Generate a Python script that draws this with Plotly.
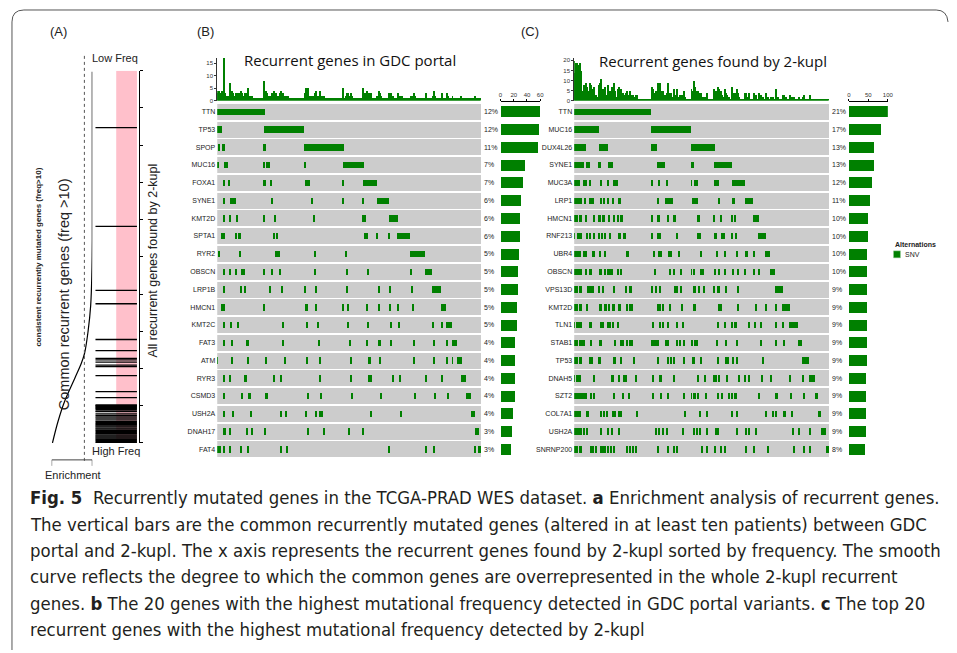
import plotly.graph_objects as go

# The page body adds an 8px margin, so the figure is drawn 8px smaller and
# reference pixel coordinates are shifted by that offset.
OFF = 8
W, H = 957 - OFF, 653 - OFF
def px(x): return (x - OFF) / W
def py(y): return 1 - (y - OFF) / H

GREEN = "#008000"
GRAY = "#CCCCCC"
TXT = "#222222"

# ---------------- Panel A data ----------------
n_ranks = 1000
enrich_rank = [0, 59, 112, 174, 214, 241, 299, 369, 460, 548, 997]
enrich_score = [0.02, 0.16, 0.32, 0.57, 0.73, 0.81, 0.895, 0.96, 0.99, 1.0, 1.0]
common_gene_ranks = [847, 582, 410, 374, 278, 248, 227, 223, 217, 209, 205, 181, 138, 122,
                     102, 100, 98, 95, 93, 90, 86, 84, 78, 74, 70, 67, 62, 58, 55, 52, 49,
                     46, 43, 40, 37, 34, 31, 28, 25, 22, 19, 16, 13, 10, 7, 4, 1]
enrich_threshold = 0.805

# ---------------- Panel B data ----------------
n_samples_b = 266
genes_b = ["TTN", "TP53", "SPOP", "MUC16", "FOXA1", "SYNE1", "KMT2D", "SPTA1", "RYR2", "OBSCN",
           "LRP1B", "HMCN1", "KMT2C", "FAT3", "ATM", "RYR3", "CSMD3", "USH2A", "DNAH17", "FAT4"]
pct_b = ["12%", "12%", "11%", "7%", "7%", "6%", "6%", "6%", "5%", "5%",
         "5%", "5%", "5%", "4%", "4%", "4%", "4%", "4%", "3%", "3%"]
count_b = [59, 58, 56, 37, 34, 31, 28, 28, 27, 25, 25, 24, 24, 21, 21, 21, 21, 18, 16, 15]
mut_b = [
    [(0, 48)],
    [(0, 5), (47, 88)],
    [(2, 3), (5, 8), (47, 49), (88, 128)],
    [(1, 2), (7, 11), (47, 48), (49, 53), (88, 89), (127, 148)],
    [(7, 8), (12, 13), (47, 49), (54, 55), (89, 94), (127, 128), (147, 161)],
    [(7, 8), (13, 19), (55, 56), (95, 96), (127, 128), (147, 148), (161, 173)],
    [(7, 8), (13, 14), (20, 21), (47, 48), (57, 60), (97, 98), (147, 148), (149, 150), (173, 183)],
    [(5, 6), (7, 8), (19, 20), (21, 24), (57, 58), (60, 61), (149, 150), (151, 152), (161, 162), (173, 174), (182, 195)],
    [(2, 3), (23, 24), (59, 60), (61, 64), (98, 99), (130, 131), (195, 210)],
    [(7, 8), (13, 14), (19, 20), (24, 28), (47, 48), (55, 56), (63, 64), (98, 99), (131, 132), (152, 153), (195, 196), (210, 217)],
    [(7, 8), (24, 25), (28, 29), (53, 54), (65, 66), (88, 90), (99, 100), (131, 132), (163, 164), (174, 175), (196, 197), (217, 226)],
    [(5, 6), (7, 8), (47, 48), (89, 92), (99, 100), (127, 128), (132, 133), (151, 152), (163, 164), (174, 175), (182, 183), (197, 198), (226, 231)],
    [(7, 8), (14, 15), (21, 22), (66, 68), (90, 91), (101, 102), (132, 133), (152, 153), (175, 176), (183, 184), (217, 218), (226, 227), (231, 237)],
    [(7, 8), (15, 16), (29, 32), (66, 67), (102, 103), (134, 135), (151, 152), (163, 165), (175, 176), (198, 199), (218, 219), (231, 232), (237, 242)],
    [(0, 1), (15, 16), (31, 32), (49, 50), (68, 69), (90, 91), (103, 104), (135, 136), (153, 155), (164, 165), (198, 199), (218, 219), (231, 232), (237, 238), (242, 247)],
    [(7, 8), (13, 14), (28, 30), (57, 58), (64, 65), (103, 104), (135, 136), (153, 154), (155, 156), (177, 178), (184, 185), (210, 211), (226, 227), (246, 251)],
    [(7, 8), (25, 26), (31, 34), (49, 51), (91, 92), (104, 105), (136, 137), (165, 166), (199, 200), (219, 220), (232, 233), (251, 256)],
    [(7, 8), (16, 17), (34, 35), (64, 65), (69, 70), (89, 90), (99, 100), (103, 104), (105, 107), (155, 156), (185, 187), (256, 260)],
    [(7, 9), (13, 14), (30, 31), (35, 36), (48, 49), (91, 92), (107, 108), (133, 134), (147, 148), (260, 264)],
    [(1, 2), (3, 4), (7, 8), (13, 14), (24, 25), (31, 32), (64, 65), (70, 72), (173, 174), (210, 211), (218, 219), (260, 261), (264, 266)],
]

# ---------------- Panel C data ----------------
n_samples_c = 257
genes_c = ["TTN", "MUC16", "DUX4L26", "SYNE1", "MUC3A", "LRP1", "HMCN1", "RNF213", "UBR4", "OBSCN",
           "VPS13D", "KMT2D", "TLN1", "STAB1", "TP53", "DNAH5", "SZT2", "COL7A1", "USH2A", "SNRNP200"]
pct_c = ["21%", "17%", "13%", "13%", "12%", "11%", "10%", "10%", "10%", "10%",
         "9%", "9%", "9%", "9%", "9%", "9%", "9%", "9%", "9%", "8%"]
count_c = [99, 83, 64, 64, 58, 53, 48, 48, 46, 46, 46, 46, 46, 46, 46, 43, 43, 43, 43, 41]
mut_c = [
    [(0, 78)],
    [(0, 25), (78, 118)],
    [(0, 12), (25, 34), (78, 84), (118, 142)],
    [(0, 10), (12, 16), (25, 27), (34, 39), (84, 92), (118, 121), (141, 159)],
    [(0, 6), (10, 11), (12, 13), (16, 17), (27, 28), (34, 35), (39, 44), (78, 79), (85, 86), (93, 94), (118, 119), (121, 125), (141, 146), (159, 172)],
    [(0, 5), (6, 8), (11, 12), (16, 17), (18, 20), (27, 28), (30, 31), (34, 35), (39, 40), (44, 47), (84, 85), (92, 100), (119, 125), (146, 147), (159, 162), (172, 181)],
    [(0, 4), (5, 8), (12, 13), (20, 21), (25, 27), (29, 31), (35, 36), (40, 41), (44, 45), (47, 49), (78, 80), (84, 87), (94, 96), (100, 103), (125, 127), (141, 142), (148, 149), (159, 160), (162, 163), (181, 187)],
    [(0, 1), (3, 8), (13, 14), (16, 17), (20, 21), (25, 26), (28, 29), (31, 32), (36, 37), (44, 47), (49, 52), (78, 79), (84, 85), (86, 87), (103, 105), (125, 126), (127, 128), (142, 144), (148, 152), (159, 160), (163, 164), (186, 194)],
    [(0, 7), (10, 11), (12, 13), (18, 21), (26, 27), (31, 32), (52, 55), (80, 81), (85, 89), (95, 96), (97, 98), (105, 107), (128, 129), (144, 145), (152, 153), (164, 165), (172, 175), (181, 182), (193, 198)],
    [(0, 8), (12, 13), (15, 18), (26, 28), (31, 32), (34, 35), (36, 37), (38, 39), (44, 45), (47, 48), (81, 82), (96, 97), (100, 101), (107, 108), (118, 119), (121, 122), (128, 129), (130, 131), (142, 143), (146, 147), (152, 153), (160, 161), (165, 166), (172, 173), (181, 183), (186, 188), (198, 203)],
    [(0, 4), (5, 8), (14, 15), (16, 17), (17, 18), (19, 20), (25, 26), (29, 30), (40, 41), (52, 53), (55, 58), (78, 79), (82, 83), (86, 87), (101, 102), (103, 104), (107, 108), (121, 123), (126, 127), (131, 132), (141, 142), (145, 147), (153, 154), (165, 166), (203, 211)],
    [(0, 4), (5, 8), (13, 14), (26, 28), (31, 33), (35, 36), (38, 41), (45, 47), (53, 54), (56, 57), (58, 59), (84, 85), (86, 87), (89, 90), (96, 97), (108, 109), (121, 123), (146, 147), (148, 149), (165, 166), (183, 184), (193, 194), (203, 204), (210, 218)],
    [(0, 1), (2, 8), (16, 18), (27, 28), (29, 30), (34, 35), (36, 37), (39, 40), (44, 45), (79, 80), (86, 87), (89, 90), (94, 95), (103, 104), (109, 110), (145, 146), (152, 153), (159, 160), (161, 164), (176, 177), (182, 183), (188, 189), (203, 204), (210, 211), (217, 226)],
    [(0, 1), (2, 4), (5, 8), (9, 11), (17, 18), (25, 28), (41, 42), (47, 48), (49, 50), (53, 54), (56, 57), (58, 59), (78, 79), (80, 81), (82, 83), (84, 85), (92, 93), (94, 95), (103, 104), (106, 107), (110, 111), (118, 120), (121, 125), (144, 145), (153, 154), (164, 165), (188, 189), (203, 204), (211, 212), (226, 230)],
    [(0, 4), (5, 8), (16, 17), (18, 19), (25, 27), (40, 42), (47, 48), (59, 62), (84, 85), (94, 95), (97, 98), (100, 101), (110, 111), (119, 120), (121, 122), (128, 129), (145, 146), (152, 156), (160, 161), (164, 165), (190, 191), (230, 237)],
    [(0, 1), (2, 7), (20, 21), (38, 40), (45, 46), (50, 51), (52, 53), (62, 63), (79, 80), (86, 89), (100, 101), (125, 126), (132, 133), (141, 142), (143, 144), (146, 147), (154, 155), (166, 167), (172, 173), (176, 177), (189, 190), (198, 200), (217, 218), (230, 231), (237, 243)],
    [(0, 1), (2, 3), (4, 5), (6, 7), (8, 9), (10, 11), (12, 13), (17, 18), (20, 21), (40, 41), (49, 50), (55, 56), (79, 80), (87, 88), (94, 95), (110, 111), (118, 119), (121, 123), (125, 126), (133, 134), (145, 146), (149, 150), (156, 157), (159, 160), (161, 164), (186, 187), (203, 206), (218, 219), (231, 232), (243, 246)],
    [(0, 7), (12, 15), (27, 28), (30, 31), (33, 34), (38, 42), (45, 46), (47, 48), (63, 64), (111, 112), (127, 128), (134, 135), (159, 160), (164, 165), (193, 194), (200, 201), (203, 204), (211, 214), (219, 220), (246, 249)],
    [(0, 8), (10, 11), (13, 14), (27, 28), (34, 35), (38, 39), (45, 46), (82, 83), (85, 86), (89, 91), (93, 95), (109, 111), (121, 122), (124, 125), (127, 128), (134, 135), (143, 144), (145, 146), (164, 165), (173, 174), (176, 177), (183, 184), (220, 221), (226, 227), (237, 239), (249, 254)],
    [(0, 1), (2, 4), (5, 8), (17, 18), (19, 20), (22, 23), (27, 28), (29, 30), (31, 32), (34, 35), (37, 38), (40, 41), (53, 54), (56, 57), (59, 60), (62, 64), (84, 85), (94, 95), (100, 101), (103, 104), (129, 130), (134, 135), (142, 143), (148, 149), (152, 153), (173, 174), (181, 182), (195, 196), (221, 222), (231, 232), (238, 239), (254, 257)],
]


def seg_arrays(mut):
    ys, bases, lens = [], [], []
    for i, segs in enumerate(mut):
        for s, e in segs:
            ys.append(i)
            bases.append(s)
            lens.append(e - s)
    return ys, bases, lens


def sample_counts(mut, n):
    c = [0] * n
    for segs in mut:
        hit = set()
        for s, e in segs:
            hit.update(range(s, e))
        for k in hit:
            c[k] += 1
    return c


fig = go.Figure()

# ---------------- Panel A traces ----------------
fig.add_trace(go.Scatter(x=enrich_score, y=enrich_rank, mode="lines",
                         line=dict(color="black", width=1.2, shape="spline", smoothing=1.0),
                         xaxis="x", yaxis="y", hoverinfo="skip", showlegend=False))
bx, by = [], []
for r in common_gene_ranks:
    bx += [0, 0.955, None]
    by += [r, r, None]
fig.add_trace(go.Scatter(x=bx, y=by, mode="lines", line=dict(color="black", width=1.3),
                         xaxis="x2", yaxis="y2", hoverinfo="skip", showlegend=False))

# ---------------- Oncoprint panels ----------------
def add_oncoprint(mut, genes, counts, n, ax_hist, ax_heat, ax_bar):
    hist = sample_counts(mut, n)
    fig.add_trace(go.Bar(x=[i + 0.5 for i in range(n)], y=hist, width=1.0,
                         marker=dict(color=GREEN, line=dict(width=0)),
                         xaxis=ax_hist[0], yaxis=ax_hist[1], showlegend=False, hoverinfo="skip"))
    fig.add_trace(go.Bar(y=list(range(len(genes))), x=[n] * len(genes), base=[0] * len(genes),
                         orientation="h", width=0.9,
                         marker=dict(color=GRAY, line=dict(width=0)),
                         xaxis=ax_heat[0], yaxis=ax_heat[1], showlegend=False, hoverinfo="skip"))
    ys, bases, lens = seg_arrays(mut)
    fig.add_trace(go.Bar(y=ys, x=lens, base=bases, orientation="h", width=0.36,
                         marker=dict(color=GREEN, line=dict(width=0)),
                         xaxis=ax_heat[0], yaxis=ax_heat[1], showlegend=False, hoverinfo="skip"))
    fig.add_trace(go.Bar(y=list(range(len(genes))), x=counts, orientation="h", width=0.62,
                         marker=dict(color=GREEN, line=dict(width=0)),
                         xaxis=ax_bar[0], yaxis=ax_bar[1], showlegend=False, hoverinfo="skip"))

add_oncoprint(mut_b, genes_b, count_b, n_samples_b, ("x3", "y3"), ("x4", "y4"), ("x5", "y5"))
add_oncoprint(mut_c, genes_c, count_c, n_samples_c, ("x6", "y6"), ("x7", "y7"), ("x8", "y8"))

ROW_TOP, ROW_BOT = 103.2, 460.2
hidden = dict(visible=False, showgrid=False, zeroline=False)
tickfont_small = dict(size=6, color="#333", family="Liberation Sans, Arial")
gene_font = dict(size=7, color=TXT, family="Liberation Sans, Arial")

layout = dict(
    width=W, height=H, autosize=False,
    margin=dict(l=0, r=0, t=0, b=0, pad=0),
    paper_bgcolor="white", plot_bgcolor="rgba(0,0,0,0)",
    barmode="overlay", bargap=0, showlegend=False,
    font=dict(family="Liberation Sans, Arial", color=TXT),
    # Panel A
    xaxis=dict(domain=[px(50), px(91)], range=[0, 1], anchor="y", **hidden),
    yaxis=dict(domain=[py(445), py(71)], range=[0, n_ranks], anchor="x", **hidden),
    xaxis2=dict(domain=[px(94), px(138)], range=[0, 1], anchor="y2", **hidden),
    yaxis2=dict(domain=[py(445), py(71)], range=[0, n_ranks], anchor="x2", side="right",
                showline=True, linecolor="black", linewidth=1, ticks="outside", ticklen=3,
                tickwidth=1, tickcolor="black", tick0=0, dtick=100, showticklabels=False,
                showgrid=False, zeroline=False),
    # Panel B
    xaxis3=dict(domain=[px(217), px(483)], range=[0, n_samples_b], anchor="y3", **hidden),
    yaxis3=dict(domain=[py(101), py(58)], range=[0, 17.1], anchor="x3", showline=True,
                linecolor="#333", linewidth=1, ticks="outside", ticklen=2, tickcolor="#333",
                tickvals=[0, 5, 10, 15], tickfont=tickfont_small, showgrid=False, zeroline=False),
    xaxis4=dict(domain=[px(217), px(483)], range=[0, n_samples_b], anchor="y4", **hidden),
    yaxis4=dict(domain=[py(ROW_BOT), py(ROW_TOP)], range=[19.5, -0.5], anchor="x4",
                tickvals=list(range(20)), ticktext=genes_b, tickfont=gene_font, ticks="",
                ticklabelstandoff=1, showgrid=False, zeroline=False, showline=False),
    xaxis5=dict(domain=[px(502.7), px(542.7)], range=[0, 60], anchor="free", position=py(101.5),
                side="top", showline=True, linecolor="black", linewidth=1, ticks="outside",
                ticklen=2, tickcolor="black", tickvals=[0, 20, 40, 60], tickfont=tickfont_small,
                ticklabelstandoff=0, showgrid=False, zeroline=False),
    yaxis5=dict(domain=[py(ROW_BOT), py(ROW_TOP)], range=[19.5, -0.5], anchor="x5", **hidden),
    # Panel C
    xaxis6=dict(domain=[px(577), px(834)], range=[0, n_samples_c], anchor="y6", **hidden),
    yaxis6=dict(domain=[py(101), py(58)], range=[0, 21.3], anchor="x6", showline=True,
                linecolor="#333", linewidth=1, ticks="outside", ticklen=2, tickcolor="#333",
                tickvals=[0, 5, 10, 15, 20], tickfont=tickfont_small, showgrid=False, zeroline=False),
    xaxis7=dict(domain=[px(577), px(834)], range=[0, n_samples_c], anchor="y7", **hidden),
    yaxis7=dict(domain=[py(ROW_BOT), py(ROW_TOP)], range=[19.5, -0.5], anchor="x7",
                tickvals=list(range(20)), ticktext=genes_c, tickfont=gene_font, ticks="",
                ticklabelstandoff=1, showgrid=False, zeroline=False, showline=False),
    xaxis8=dict(domain=[px(854), px(893.3)], range=[0, 100], anchor="free", position=py(101.5),
                side="top", showline=True, linecolor="black", linewidth=1, ticks="outside",
                ticklen=2, tickcolor="black", tickvals=[0, 50, 100], tickfont=tickfont_small,
                ticklabelstandoff=0, showgrid=False, zeroline=False),
    yaxis8=dict(domain=[py(ROW_BOT), py(ROW_TOP)], range=[19.5, -0.5], anchor="x8", **hidden),
)
fig.update_layout(**layout)

shapes = []
# outer rounded border
shapes.append(dict(type="path", xref="paper", yref="paper",
                   path=f"M {px(10)},{py(653)} L {px(10)},{py(22)} Q {px(10)},{py(10)} {px(22)},{py(10)} "
                        f"L {px(942)},{py(10)} Q {px(953)},{py(10)} {px(954)},{py(22)}",
                   line=dict(color="#555", width=1)))
# pink band in panel A
shapes.append(dict(type="rect", xref="x2", yref="y2", x0=0.48, x1=0.955, y0=0, y1=n_ranks,
                   fillcolor="pink", line=dict(width=0), layer="below"))
# dotted threshold line
shapes.append(dict(type="line", xref="x", yref="paper", x0=enrich_threshold, x1=enrich_threshold,
                   y0=py(463), y1=py(55), line=dict(color="#555", width=1, dash="dot")))
# enrichment scale bracket
shapes.append(dict(type="path", xref="x", yref="paper",
                   path=f"M 0,{py(468)} L 0,{py(462)} L 1,{py(462)} L 1,{py(468)}",
                   line=dict(color="#444", width=1)))
# legend square
shapes.append(dict(type="rect", xref="paper", yref="paper", x0=px(899), x1=px(906),
                   y0=py(259), y1=py(252), fillcolor=GREEN, line=dict(color="#9c9", width=0.5)))
fig.update_layout(shapes=shapes)

ann = []
def text(x, y, s, size, xanchor="center", yanchor="middle", family="Liberation Sans, Arial",
         color=TXT, angle=0):
    ann.append(dict(x=px(x), y=py(y), xref="paper", yref="paper", text=s, showarrow=False,
                    xanchor=xanchor, yanchor=yanchor, textangle=angle,
                    font=dict(size=size, family=family, color=color)))

text(57, 32, "(A)", 13)
text(205, 32, "(B)", 13)
text(532, 32, "(C)", 13)
text(89, 58, "Low Freq", 11, xanchor="left")
text(89, 453, "High Freq", 11, xanchor="left")
text(72, 477, "Enrichment", 11)
text(152, 262, "All recurrent genes found by 2-kupl", 12.5, angle=-90)
text(62, 296, "Common recurrent genes (freq >10)", 14.5, angle=-90)
text(37, 258, "<b>consistent recurrently mutated genes (freq>10)</b>", 8, angle=-90)
text(351, 60, "Recurrent genes in GDC portal", 15, family="Open Sans, Lato, Arial", color="#111")
text(717, 61, "Recurrent genes found by 2-kupl", 15, family="Open Sans, Lato, Arial", color="#111")
text(899, 246, "<b>Alternations</b>", 7, xanchor="left")
text(908.5, 256, "SNV", 7, xanchor="left")

for i, p in enumerate(pct_b):
    ann.append(dict(x=1, y=i, xref="x4 domain", yref="y4", text=p, showarrow=False,
                    xanchor="left", xshift=1, font=dict(size=7, color=TXT)))
for i, p in enumerate(pct_c):
    ann.append(dict(x=1, y=i, xref="x7 domain", yref="y7", text=p, showarrow=False,
                    xanchor="left", xshift=1, font=dict(size=7, color=TXT)))

cap_font = "Liberation Sans Narrow, DejaVu Sans Condensed, Liberation Sans, Arial"
caption = [
    "<b>Fig. 5</b>  Recurrently mutated genes in the TCGA-PRAD WES dataset. <b>a</b> Enrichment analysis of recurrent genes.",
    "The vertical bars are the common recurrently mutated genes (altered in at least ten patients) between GDC",
    "portal and 2-kupl. The x axis represents the recurrent genes found by 2-kupl sorted by frequency. The smooth",
    "curve reflects the degree to which the common genes are overrepresented in the whole 2-kupl recurrent",
    "genes. <b>b</b> The 20 genes with the highest mutational frequency detected in GDC portal variants. <b>c</b> The top 20",
    "recurrent genes with the highest mutational frequency detected by 2-kupl",
]
for k, line in enumerate(caption):
    text(26, 500 + 26.5 * k, line, 18.4, xanchor="left", family=cap_font, color="#231f20")

fig.update_layout(annotations=ann)
fig.write_html("out.html")
